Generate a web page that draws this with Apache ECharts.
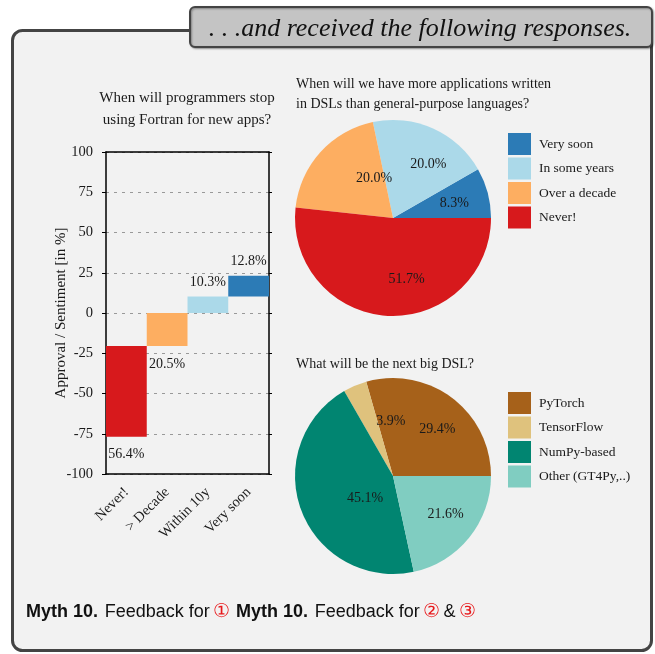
<!DOCTYPE html>
<html>
<head>
<meta charset="utf-8">
<script src="https://cdn.jsdelivr.net/npm/echarts@6/dist/echarts.min.js"></script>
<style>
  html, body { margin: 0; padding: 0; background: #fff; }
  #chart { width: 655px; height: 654px; }
</style>
</head>
<body>
<div id="chart"></div>
<script>
// ---- data ----
const fortranCategories = ['Never!', '> Decade', 'Within 10y', 'Very soon'];
const fortranShares = [-56.4, -20.5, 10.3, 12.8];   // below zero = "not soon"
const fortranColors = ['#d7191c', '#fdae61', '#abd9e9', '#2c7bb6'];

const dslNames = ['Very soon', 'In some years', 'Over a decade', 'Never!'];
const dslShares = [8.3, 20.0, 20.0, 51.7];
const dslColors = ['#2c7bb6', '#abd9e9', '#fdae61', '#d7191c'];

const nextDslNames = ['PyTorch', 'TensorFlow', 'NumPy-based', 'Other (GT4Py,..)'];
const nextDslShares = [29.4, 3.9, 45.1, 21.6];
const nextDslColors = ['#a6611a', '#dfc27d', '#018571', '#80cdc1'];

const serif = '"Liberation Serif", "Times New Roman", serif';
const sans = '"Liberation Sans", Arial, sans-serif';
const ink = '#1a1a1a';

// waterfall: negatives hang down from zero (closest first), positives climb up
let fortranBase = new Array(fortranShares.length).fill(0);
let runNeg = 0, runPos = 0;
for (let i = fortranShares.length - 1; i >= 0; i--) {
	if (fortranShares[i] < 0) { fortranBase[i] = runNeg; runNeg += fortranShares[i]; }
}
for (let i = 0; i < fortranShares.length; i++) {
	if (fortranShares[i] > 0) { fortranBase[i] = runPos; runPos += fortranShares[i]; }
}

// pie labels sit a bit right of the slice middle in the original
function pieLabelShift(values) {
	let total = values.reduce((a, b) => a + b, 0);
	return function (p) {
		let before = 0;
		for (let i = 0; i < p.dataIndex; i++) before += values[i];
		let a = (before + values[p.dataIndex] / 2) / total * 2 * Math.PI;
		return { dx: 16 - 5 * Math.cos(a), dy: -8 * Math.sin(a) + 1 };
	};
}

function pieData(names, values, colors) {
	return names.map((n, i) => ({ name: n, value: values[i], itemStyle: { color: colors[i] } }));
}

function legendFor(names, top) {
	return {
		data: names, left: 508, top: top, orient: 'vertical', padding: 0,
		icon: 'rect', itemWidth: 23, itemHeight: 22, itemGap: 2.5,
		selectedMode: false,
		textStyle: { fontFamily: serif, fontSize: 13.5, color: ink, padding: [0, 0, 0, 3] }
	};
}

function footRich() {
	return {
		b: { fontFamily: sans, fontWeight: 'bold', fontSize: 18, fill: '#111', color: '#111' },
		n: { fontFamily: sans, fontSize: 18, fill: '#111', color: '#111' },
		r: { fontFamily: '"DejaVu Serif", serif', fontSize: 19, fill: '#e8191c', color: '#e8191c' }
	};
}

let chart = echarts.init(document.getElementById('chart'));

let option = {
	backgroundColor: '#ffffff',
	animation: false,
	title: [{
		text: 'When will programmers stop\nusing Fortran for new apps?',
		left: 187, top: 87, textAlign: 'center', padding: 0,
		textStyle: { fontFamily: serif, fontSize: 15, fontWeight: 'normal', color: ink, lineHeight: 22 }
	}, {
		text: 'When will we have more applications written\nin DSLs than general-purpose languages?',
		left: 296, top: 74, padding: 0,
		textStyle: { fontFamily: serif, fontSize: 14, fontWeight: 'normal', color: ink, lineHeight: 20 }
	}, {
		text: 'What will be the next big DSL?',
		left: 296, top: 354, padding: 0,
		textStyle: { fontFamily: serif, fontSize: 14, fontWeight: 'normal', color: ink, lineHeight: 20 }
	}],
	legend: [legendFor(dslNames, 133), legendFor(nextDslNames, 392)],
	grid: { left: 106, top: 152, width: 163, height: 322 },
	xAxis: [{
		type: 'category', data: fortranCategories, position: 'bottom',
		axisLine: { onZero: false, lineStyle: { color: '#000', width: 1.5 } },
		axisTick: { alignWithLabel: true, length: 4, lineStyle: { color: '#000' } },
		axisLabel: { rotate: 45, margin: 16, fontFamily: serif, fontSize: 14.5, color: ink }
	}, {
		type: 'category', data: fortranCategories, position: 'top',
		axisLine: { onZero: false, lineStyle: { color: '#000', width: 1.5 } },
		axisTick: { alignWithLabel: true, length: 3, lineStyle: { color: '#000' } },
		axisLabel: { show: false }
	}],
	yAxis: [{
		type: 'value', min: -100, max: 100, interval: 25, position: 'left',
		name: 'Approval / Sentiment [in %]', nameLocation: 'middle', nameGap: 37,
		nameMoveOverlap: false,
		nameTextStyle: { fontFamily: serif, fontSize: 15, color: ink },
		axisLine: { show: true, onZero: false, lineStyle: { color: '#000', width: 1.5 } },
		axisTick: { show: true, length: 4, lineStyle: { color: '#000' } },
		axisLabel: { fontFamily: serif, fontSize: 14.5, color: ink, margin: 13 },
		splitLine: { show: true, lineStyle: { color: '#999', type: [3, 5], width: 1 } }
	}, {
		type: 'value', min: -100, max: 100, interval: 25, position: 'right',
		axisLine: { show: true, onZero: false, lineStyle: { color: '#000', width: 1.5 } },
		axisTick: { show: true, length: 3, lineStyle: { color: '#000' } },
		axisLabel: { show: false },
		splitLine: { show: false }
	}],
	series: [{
		name: 'base', type: 'bar', stack: 'fortran',
		barWidth: '100%', barCategoryGap: '0%',
		itemStyle: { color: 'transparent' },
		emphasis: { disabled: true },
		data: fortranBase
	}, {
		name: 'share', type: 'bar', stack: 'fortran',
		barWidth: '100%', barCategoryGap: '0%',
		data: fortranShares.map((v, i) => ({
			value: v,
			itemStyle: { color: fortranColors[i] },
			label: v < 0 ? { position: 'bottom', distance: 11 } : { position: 'top', distance: 7 }
		})),
		label: {
			show: true,
			fontFamily: serif, fontSize: 14, color: ink,
			formatter: p => Math.abs(p.value).toFixed(1) + '%'
		}
	}, {
		name: 'dsl', type: 'pie', center: [393, 218], radius: 98,
		startAngle: 0, clockwise: false,
		label: {
			show: true, position: 'inside', fontFamily: serif, fontSize: 14, color: ink,
			formatter: p => p.value.toFixed(1) + '%'
		},
		labelLayout: pieLabelShift(dslShares),
		itemStyle: { borderWidth: 0 },
		emphasis: { disabled: true },
		data: pieData(dslNames, dslShares, dslColors)
	}, {
		name: 'nextdsl', type: 'pie', center: [393, 476], radius: 98,
		startAngle: 0, clockwise: false,
		label: {
			show: true, position: 'inside', fontFamily: serif, fontSize: 14, color: ink,
			formatter: p => p.value.toFixed(1) + '%'
		},
		labelLayout: pieLabelShift(nextDslShares),
		itemStyle: { borderWidth: 0 },
		emphasis: { disabled: true },
		data: pieData(nextDslNames, nextDslShares, nextDslColors)
	}],
	graphic: [{
		type: 'rect', z: -10,
		shape: { x: 12.5, y: 30.5, width: 639, height: 620, r: 10 },
		style: { fill: '#f2f2f2', stroke: '#444', lineWidth: 3 }
	}, {
		type: 'rect', z: 50,
		shape: { x: 190, y: 7, width: 462, height: 40, r: 5 },
		style: { fill: '#c4c4c4', stroke: '#444', lineWidth: 2,
			shadowBlur: 2, shadowOffsetX: 1, shadowOffsetY: 1, shadowColor: 'rgba(0,0,0,0.35)' }
	}, {
		type: 'text', z: 51, x: 420, y: 29,
		style: {
			text: '. . .and received the following responses.',
			font: 'italic 26px "Liberation Serif", serif', fill: '#111',
			align: 'center', verticalAlign: 'middle', textAlign: 'center', textVerticalAlign: 'middle'
		}
	}, {
		type: 'text', x: 26, y: 612,
		style: {
			text: '{b|Myth 10.}  {n|Feedback for} {r|①}',
			verticalAlign: 'middle', textVerticalAlign: 'middle',
			rich: footRich()
		}
	}, {
		type: 'text', x: 236, y: 612,
		style: {
			text: '{b|Myth 10.}  {n|Feedback for} {r|②} {n|&} {r|③}',
			verticalAlign: 'middle', textVerticalAlign: 'middle',
			rich: footRich()
		}
	}]
};

chart.setOption(option);
</script>
</body>
</html>
